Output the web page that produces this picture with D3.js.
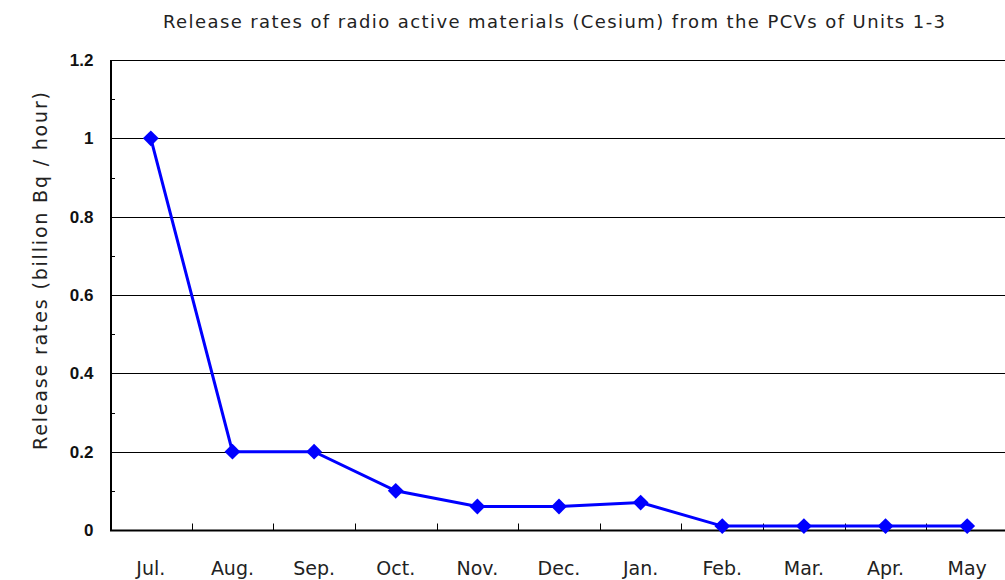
<!DOCTYPE html>
<html>
<head>
<meta charset="utf-8">
<script src="https://cdn.jsdelivr.net/npm/d3@7"></script>
<style>
  body { margin: 0; background: #fff; }
  svg { display: block; }
</style>
</head>
<body>
<div id="chart"></div>
<script>
const months = ['Jul.', 'Aug.', 'Sep.', 'Oct.', 'Nov.', 'Dec.', 'Jan.', 'Feb.', 'Mar.', 'Apr.', 'May'];
const releaseRates = [1, 0.2, 0.2, 0.1, 0.06, 0.06, 0.07, 0.01, 0.01, 0.01, 0.01];
const yMajorTicks = [0, 0.2, 0.4, 0.6, 0.8, 1, 1.2];
const yMinorTicks = [0.1, 0.3, 0.5, 0.7, 0.9, 1.1];

const width = 1005, height = 580;
const margin = {left: 110, top: 60, right: -3, bottom: 50};
const labelFont = '"Liberation Sans", Arial, sans-serif';
const textFont = '"DejaVu Sans", sans-serif';

const svg = d3.select('#chart').append('svg')
  .attr('width', width)
  .attr('height', height);

const x = d3.scaleBand()
  .domain(months)
  .range([margin.left, width - margin.right]);

const y = d3.scaleLinear()
  .domain([0, 1.2])
  .range([height - margin.bottom, margin.top]);

// gridlines
svg.append('g')
  .selectAll('line')
  .data(yMajorTicks.filter(d => d > 0))
  .join('line')
    .attr('x1', margin.left)
    .attr('x2', width)
    .attr('y1', d => Math.round(y(d)) + 0.5)
    .attr('y2', d => Math.round(y(d)) + 0.5)
    .attr('stroke', '#000')
    .attr('stroke-width', 1);

// y axis
const yAxis = d3.axisLeft(y)
  .tickValues(yMajorTicks)
  .tickSize(0)
  .tickPadding(17)
  .tickFormat(d => d);

const gy = svg.append('g')
  .attr('transform', 'translate(' + (margin.left + 0.5) + ',0)')
  .call(yAxis);
gy.select('.domain').attr('stroke', '#000').attr('stroke-width', 2);
gy.selectAll('.tick text')
  .attr('font-family', labelFont)
  .attr('font-size', 17)
  .attr('font-weight', 'bold')
  .attr('fill', '#111');

// minor ticks pointing inward
svg.append('g')
  .selectAll('line')
  .data(yMinorTicks)
  .join('line')
    .attr('x1', margin.left)
    .attr('x2', margin.left + 5)
    .attr('y1', d => Math.round(y(d)) + 0.5)
    .attr('y2', d => Math.round(y(d)) + 0.5)
    .attr('stroke', '#000');

// x axis
const yZero = Math.round(y(0)) + 0.5;
svg.append('line')
  .attr('x1', margin.left)
  .attr('x2', width)
  .attr('y1', yZero)
  .attr('y2', yZero)
  .attr('stroke', '#000')
  .attr('stroke-width', 2);

svg.append('g')
  .selectAll('line')
  .data(months.slice(1))
  .join('line')
    .attr('x1', d => Math.round(x(d)) + 0.5)
    .attr('x2', d => Math.round(x(d)) + 0.5)
    .attr('y1', yZero)
    .attr('y2', yZero - 7)
    .attr('stroke', '#000');

svg.append('g')
  .selectAll('text')
  .data(months)
  .join('text')
    .attr('x', d => x(d) + x.bandwidth() / 2)
    .attr('y', 575)
    .attr('text-anchor', 'middle')
    .attr('font-family', textFont)
    .attr('font-size', 19)
    .attr('fill', '#222')
    .text(d => d);

// line
const line = d3.line()
  .x((d, i) => x(months[i]) + x.bandwidth() / 2)
  .y(d => y(d));

svg.append('path')
  .datum(releaseRates)
  .attr('fill', 'none')
  .attr('stroke', '#0000ff')
  .attr('stroke-width', 3)
  .attr('d', line);

svg.append('g')
  .selectAll('path')
  .data(releaseRates)
  .join('path')
    .attr('transform', (d, i) => 'translate(' + (x(months[i]) + x.bandwidth() / 2) + ',' + y(d) + ')')
    .attr('d', d3.symbol(d3.symbolDiamond2, 160))
    .attr('fill', '#0000ff');

// title
svg.append('text')
  .attr('x', 554)
  .attr('y', 28)
  .attr('text-anchor', 'middle')
  .attr('font-family', textFont)
  .attr('font-size', 18)
  .attr('fill', '#222')
  .attr('textLength', 782)
  .attr('lengthAdjust', 'spacing')
  .text('Release rates of radio active materials (Cesium) from the PCVs of Units 1-3');

// y label
svg.append('text')
  .attr('transform', 'translate(47,271) rotate(-90)')
  .attr('text-anchor', 'middle')
  .attr('font-family', textFont)
  .attr('font-size', 19)
  .attr('fill', '#222')
  .attr('textLength', 358)
  .attr('lengthAdjust', 'spacing')
  .text('Release rates  (billion Bq  /  hour)');
</script>
</body>
</html>
